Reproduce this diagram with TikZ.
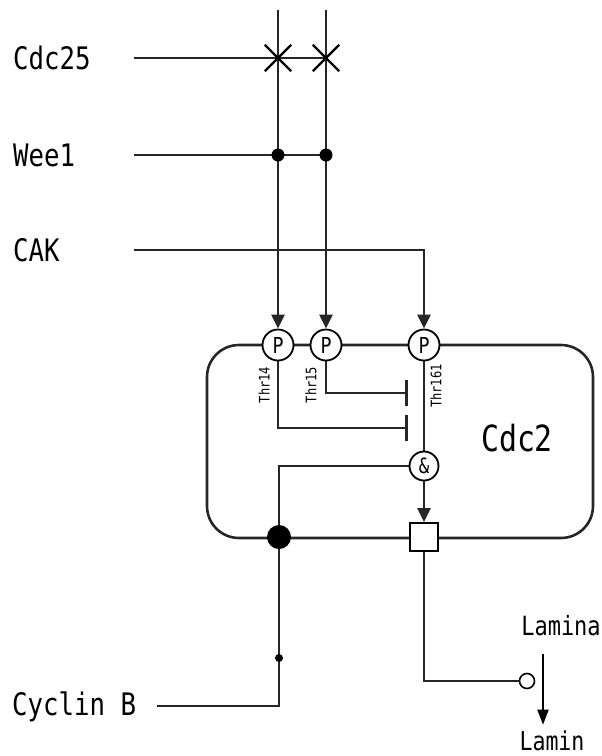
\documentclass[tikz,border=0pt]{standalone}
\usepackage{fontspec}
\newfontfamily\gothic[FakeStretch=0.83]{DejaVu Sans Mono}
\usetikzlibrary{arrows.meta,shapes.misc,backgrounds}

\newcommand\dfont[1]{\fontsize{#1}{#1}\selectfont\gothic}

\begin{document}
\begin{tikzpicture}[x=1pt,y=-1pt,
  wire/.style={line width=2.6pt,draw=black!85},
  flow/.style={wire,-{Triangle[length=14pt,width=13pt]}},
  block/.style={wire,-{Bar[width=26pt]}},
  regulator/.style={anchor=west,inner sep=0pt,font=\dfont{31}},
  site/.style={draw,circle,line width=1.8pt,fill=white,minimum size=31pt,inner sep=0pt,font=\dfont{22}},
  thr/.style={rotate=90,inner sep=0pt,font=\dfont{14.5}},
  dot/.style={circle,fill=black,inner sep=0pt},
  cross/.style={draw,cross out,line width=2.3pt,minimum size=24pt,inner sep=0pt}
]
  \useasboundingbox (0,0) rectangle (602,756);

  % the kinase
  \node[wire,rounded corners=32pt,minimum width=386pt,minimum height=193pt] (cdc2box) at (400,441.5) {};
  \node[font=\dfont{36}] (cdc2) at (517,438) {Cdc2};

  % regulators
  \node[regulator] (cdc25) at (13,58) {Cdc25};
  \node[regulator] (wee1) at (13,155) {Wee1};
  \node[regulator] (cak) at (13,250) {CAK};
  \node[regulator] (cycb) at (12,707) {Cyclin B};
  \coordinate (cdc25w) at (134,58);
  \coordinate (wee1w) at (134,155);
  \coordinate (cakw) at (134,250);
  \coordinate (cycbw) at (157,706);
  \coordinate (top14) at (278,10);
  \coordinate (top15) at (326,10);

  % crossings and junctions
  \node[cross] (x14) at (278,58) {};
  \node[cross] (x15) at (326,58) {};
  \node[dot,minimum size=13pt] (w14) at (278,155) {};
  \node[dot,minimum size=13pt] (w15) at (326,155) {};

  % phosphorylation sites
  \node[site] (p14) at (278,345) {P};
  \node[site] (p15) at (326,345) {P};
  \node[site] (p161) at (424,345) {P};
  \node[thr] (t14) at (264,385) {Thr14};
  \node[thr] (t15) at (311,385) {Thr15};
  \node[thr] (t161) at (436,386) {Thr161};
  \coordinate (bar15) at (408,393);
  \coordinate (bar14) at (408,428);

  \node[site,minimum size=29pt,font=\dfont{21}] (and) at (424,466) {\&};
  \node[draw,line width=1.8pt,fill=white,minimum size=28pt,inner sep=0pt] (gate) at (424,537) {};
  \node[dot,minimum size=24pt] (cycdot) at (279,537) {};
  \node[dot,minimum size=8pt] (tick) at (279,658) {};
  \node[draw,circle,line width=1.6pt,fill=white,minimum size=15pt,inner sep=0pt] (lamdot) at (527,681) {};

  \node[font=\dfont{26.5},inner sep=0pt] (lamina) at (561,626) {Lamina};
  \node[font=\dfont{26},inner sep=0pt] (lamin) at (552,741) {Lamin};
  \coordinate (lamx) at (543,0);

  \begin{scope}[on background layer]
    \draw[wire] (cdc25w) -- (x15.center);
    \draw[wire] (wee1w) -- (w15.center);
    \draw[flow] (top14) -- (p14);
    \draw[flow] (top15) -- (p15);
    \draw[flow] (cakw) -| (p161);

    \draw[block] (p15) |- (bar15);
    \draw[block] (p14) |- (bar14);
    \draw[wire] (p161) -- (and);
    \draw[flow] (and) -- (gate);
    \draw[wire] (and.west) -| (cycdot.center);
    \draw[wire] (cycbw) -| (cycdot.center);
    \draw[wire] (gate) |- (lamdot);
  \end{scope}
  \draw[line width=1.8pt,-{Triangle[length=15pt,width=11pt]},shorten <=18pt,shorten >=6pt]
    (lamina.south -| lamx) -- (lamin.north -| lamx);
\end{tikzpicture}
\end{document}
